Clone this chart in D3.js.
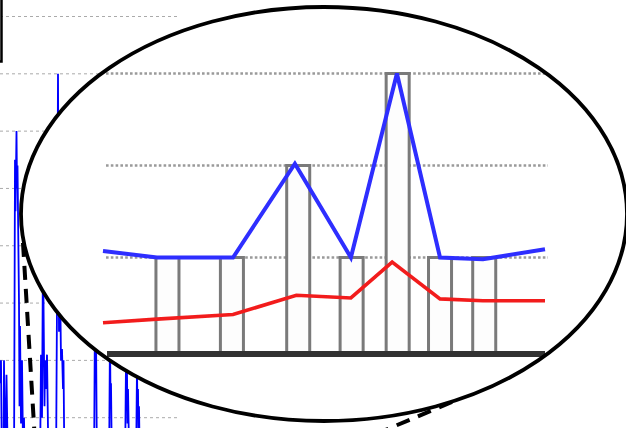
<!DOCTYPE html>
<html>
<head>
<meta charset="utf-8">
<script src="https://cdn.jsdelivr.net/npm/d3@7"></script>
<style>
  html, body { margin: 0; padding: 0; background: #fff; }
  svg { display: block; }
</style>
</head>
<body>
<svg id="chart" width="626" height="428"></svg>
<script>
// ---- Full series (background panel): time index (half-pixel steps) and counts ----
const bgT = [0, 1, 2, 4, 7, 8, 10, 13, 16, 28, 30, 31, 32, 33, 34, 35, 36, 38, 39, 40, 42, 44, 46, 48, 50,
             80, 82, 84, 86, 88, 89, 90, 92, 94, 96, 98, 112, 114, 116, 118, 120, 122, 124, 126, 127, 129,
             188, 190, 192, 194, 218, 220, 221, 222, 223, 224, 250, 252, 253, 254, 255, 256, 258, 260,
             272, 274, 275, 276, 277, 278, 280, 360];
const bgV = [2.0, 1.6, 2.0, 0, 0, 2.0, 0, 1.75, 0, 0, 5.5, 4.6, 5.3, 6.0, 5.0, 5.4, 4.6, 3.0, 1.2, 2.6, 0.9, 2.0, 0.5, 1.0, 0,
             0, 2.1, 1.0, 4.0, 2.1, 1.2, 2.0, 1.5, 2.1, 0.8, 0, 0, 3.0, 7.0, 2.5, 3.5, 2.0, 2.2, 1.5, 2.0, 0,
             0, 3.0, 2.5, 0, 0, 2.5, 1.3, 1.6, 0.8, 0, 0, 2.0, 1.2, 1.8, 0.9, 1.5, 0.5, 0,
             0, 1.9, 1.0, 1.5, 0.7, 1.2, 0, 0];
const bgGridValues = [1, 2, 3, 4, 5, 6, 7, 8];

// ---- Magnified window: hours within the zoomed span ----
const barHours  = [3.5, 7.0, 10.6, 13.5, 16.0, 18.3, 20.7];
const barCounts = [1, 1, 2, 1, 3, 1, 1];
const blueHours  = [0, 2.93, 7.06, 10.42, 13.46, 15.96, 18.3, 20.63, 24];
const blueValues = [1.07, 1.0, 1.0, 2.02, 1.0, 3.0, 1.0, 0.98, 1.09];
const redHours  = [0, 2.93, 7.06, 10.5, 13.46, 15.7, 18.3, 20.63, 24];
const redValues = [0.29, 0.33, 0.38, 0.59, 0.56, 0.95, 0.55, 0.53, 0.53];
const zoomGridValues = [1, 2, 3];

const svg = d3.select("#chart");
const defs = svg.append("defs");

// ---------- background panel ----------
const bx = d3.scaleLinear().domain([0, 360]).range([0, 180]);
const by = d3.scaleLinear().domain([0, 8]).range([475, 16.5]);

const bgLayer = svg.append("g");
bgLayer.selectAll("line.bggrid")
  .data(bgGridValues)
  .join("line")
  .attr("class", "bggrid")
  .attr("x1", bx(0)).attr("x2", bx(360))
  .attr("y1", d => by(d)).attr("y2", d => by(d))
  .attr("stroke", "#aaa")
  .attr("stroke-width", 1)
  .attr("stroke-dasharray", "3,3");

bgLayer.append("path")
  .datum(d3.zip(bgT, bgV))
  .attr("fill", "none")
  .attr("stroke", "#0000ff")
  .attr("stroke-width", 1.8)
  .attr("stroke-linejoin", "miter")
  .attr("d", d3.line().x(d => bx(d[0])).y(d => by(d[1])));

// legend frame, mostly outside the view
bgLayer.append("rect")
  .attr("x", -60).attr("y", -10)
  .attr("width", 61.5).attr("height", 71.5)
  .attr("fill", "#fff")
  .attr("stroke", "#000")
  .attr("stroke-width", 2.5);

// ---------- magnifier ----------
const ell = { cx: 324, cy: 214, rx: 303, ry: 207 };
const focus = [43, 574]; // source region of the zoom, below the view

// connector lines from the lens to the source region
const connectors = [[23, 243], [452, 402]];
svg.append("g").selectAll("line")
  .data(connectors)
  .join("line")
  .attr("x1", d => d[0]).attr("y1", d => d[1])
  .attr("x2", focus[0]).attr("y2", focus[1])
  .attr("stroke", "#000")
  .attr("stroke-width", 4)
  .attr("stroke-dasharray", "14,9");

svg.append("ellipse")
  .attr("cx", ell.cx).attr("cy", ell.cy)
  .attr("rx", ell.rx).attr("ry", ell.ry)
  .attr("fill", "#fff")
  .attr("stroke", "none");

defs.append("clipPath").attr("id", "lens")
  .append("ellipse")
  .attr("cx", ell.cx).attr("cy", ell.cy)
  .attr("rx", ell.rx).attr("ry", ell.ry);

// the enlarged view is an upscaled raster, so it is slightly soft
defs.append("filter").attr("id", "soft")
  .attr("x", "-5%").attr("y", "-5%").attr("width", "110%").attr("height", "110%")
  .append("feGaussianBlur").attr("stdDeviation", 0.6);

const zx = d3.scaleLinear().domain([0, 24]).range([103, 545]);
const zy = d3.scaleLinear().domain([0, 3]).range([349.5, 73.5]);
const barW = zx(1.25) - zx(0);
const baseY = zy(0) + 4.5;

const lens = svg.append("g").attr("clip-path", "url(#lens)")
  .append("g").attr("filter", "url(#soft)");

lens.selectAll("line.zgrid")
  .data(zoomGridValues)
  .join("line")
  .attr("class", "zgrid")
  .attr("x1", zx(0) + 3).attr("x2", zx(24) + 3)
  .attr("y1", d => zy(d)).attr("y2", d => zy(d))
  .attr("stroke", "#9a9a9a")
  .attr("stroke-width", 2.6)
  .attr("stroke-dasharray", "2.6,2.2");

lens.selectAll("rect.bar")
  .data(d3.zip(barHours, barCounts))
  .join("rect")
  .attr("class", "bar")
  .attr("x", d => zx(d[0]) - barW / 2)
  .attr("width", barW)
  .attr("y", d => zy(d[1]))
  .attr("height", d => baseY - zy(d[1]))
  .attr("fill", "#fdfdfd")
  .attr("stroke", "#7a7a7a")
  .attr("stroke-width", 3);

lens.append("line")
  .attr("x1", zx(0) + 4).attr("x2", zx(24))
  .attr("y1", baseY).attr("y2", baseY)
  .attr("stroke", "#333")
  .attr("stroke-width", 6);

const zline = d3.line().x(d => zx(d[0])).y(d => zy(d[1]));

lens.append("path")
  .datum(d3.zip(redHours, redValues))
  .attr("fill", "none")
  .attr("stroke", "#f21c1c")
  .attr("stroke-width", 3.6)
  .attr("d", zline);

lens.append("path")
  .datum(d3.zip(blueHours, blueValues))
  .attr("fill", "none")
  .attr("stroke", "#2e2eff")
  .attr("stroke-width", 4)
  .attr("d", zline);

svg.append("ellipse")
  .attr("cx", ell.cx).attr("cy", ell.cy)
  .attr("rx", ell.rx).attr("ry", ell.ry)
  .attr("fill", "none")
  .attr("stroke", "#000")
  .attr("stroke-width", 3.8);
</script>
</body>
</html>
